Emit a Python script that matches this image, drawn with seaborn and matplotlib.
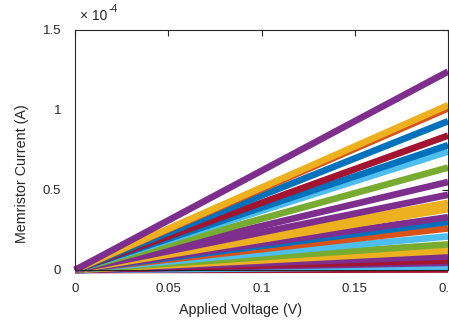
import matplotlib
matplotlib.use("Agg")
import matplotlib.pyplot as plt
import seaborn as sns
import pandas as pd
from matplotlib.ticker import FuncFormatter, FixedLocator

# Data: each memristor state measured as current vs applied voltage
voltage = [0.0, 0.2]
series_names = [f"s{i:02d}" for i in range(1, 24)]
end_current = [1.24e-4, 1.03e-4, 1.01e-4, 0.93e-4, 0.84e-4, 0.78e-4, 0.74e-4,
               0.64e-4, 0.55e-4, 0.47e-4, 0.42e-4, 0.38e-4, 0.33e-4, 0.30e-4,
               0.26e-4, 0.21e-4, 0.16e-4, 0.12e-4, 0.085e-4, 0.06e-4, 0.045e-4,
               0.02e-4, 0.003e-4]
series_colors = ["purple", "yellow", "orange", "blue", "red", "blue", "lightblue",
                 "green", "purple", "purple", "yellow", "yellow", "purple", "blue",
                 "orange", "lightblue", "green", "yellow", "purple", "red", "purple",
                 "lightblue", "red"]
x_ticks = [0, 0.05, 0.1, 0.15, 0.2]
y_ticks = [0, 0.5e-4, 1e-4, 1.5e-4]

matlab = {
    "blue": (0.000, 0.447, 0.741),
    "orange": (0.850, 0.325, 0.098),
    "yellow": (0.929, 0.694, 0.125),
    "purple": (0.494, 0.184, 0.556),
    "green": (0.466, 0.674, 0.188),
    "lightblue": (0.301, 0.745, 0.933),
    "red": (0.635, 0.078, 0.184),
}

rows = []
for name, end in zip(series_names, end_current):
    rows.append({"series": name, "V": voltage[0], "I": 0.0})
    rows.append({"series": name, "V": voltage[1], "I": end})
df = pd.DataFrame(rows)
palette = {n: matlab[c] for n, c in zip(series_names, series_colors)}

sns.set_style("white")
plt.rcParams["font.family"] = ["Liberation Sans", "DejaVu Sans"]

fig = plt.figure(figsize=(4.49, 3.21), dpi=100)
ax = fig.add_axes([75 / 449, 51 / 321, 373 / 449, 240 / 321])

order = list(reversed(series_names))
sns.lineplot(data=df, x="V", y="I", hue="series", hue_order=order,
             palette=palette, linewidth=4.8, legend=False, ax=ax,
             estimator=None, sort=False)
for ln in ax.lines:
    ln.set_clip_on(False)
    ln.set_solid_capstyle("butt")

ax.set_xlim(0, 0.2)
ax.set_ylim(0, 1.5e-4)
ax.xaxis.set_major_locator(FixedLocator(x_ticks))
ax.yaxis.set_major_locator(FixedLocator(y_ticks))
ax.xaxis.set_major_formatter(FuncFormatter(lambda v, p: f"{v:g}"))
ax.yaxis.set_major_formatter(FuncFormatter(lambda v, p: f"{v * 1e4:g}"))

spine_col = (0.15, 0.15, 0.15)
for s in ax.spines.values():
    s.set_color(spine_col)
    s.set_linewidth(0.8)
ax.tick_params(direction="in", length=4, width=0.8, colors=spine_col,
               labelsize=9.5, top=True, right=True)
ax.tick_params(axis="x", pad=9)
ax.tick_params(axis="y", pad=10)
for lab in ax.get_xticklabels() + ax.get_yticklabels():
    lab.set_color(spine_col)

ax.set_xlabel("Applied Voltage (V)", fontsize=10.3, color=spine_col)
ax.set_ylabel("Memristor Current (A)", fontsize=10.3, color=spine_col)
ax.xaxis.set_label_coords((241 - 75) / 373, -(303 - 270) / 240)
ax.yaxis.set_label_coords(-(75 - 29) / 373, (270 - 174) / 240)

ax.text(80 / 449, 1 - 20 / 321, "\u00d7 10", transform=fig.transFigure,
        fontsize=10, color=spine_col, ha="left", va="baseline")
ax.text(109 / 449, 1 - 12 / 321, "-4", transform=fig.transFigure,
        fontsize=7.5, color=spine_col, ha="left", va="baseline")

fig.savefig("out.png", dpi=100)
